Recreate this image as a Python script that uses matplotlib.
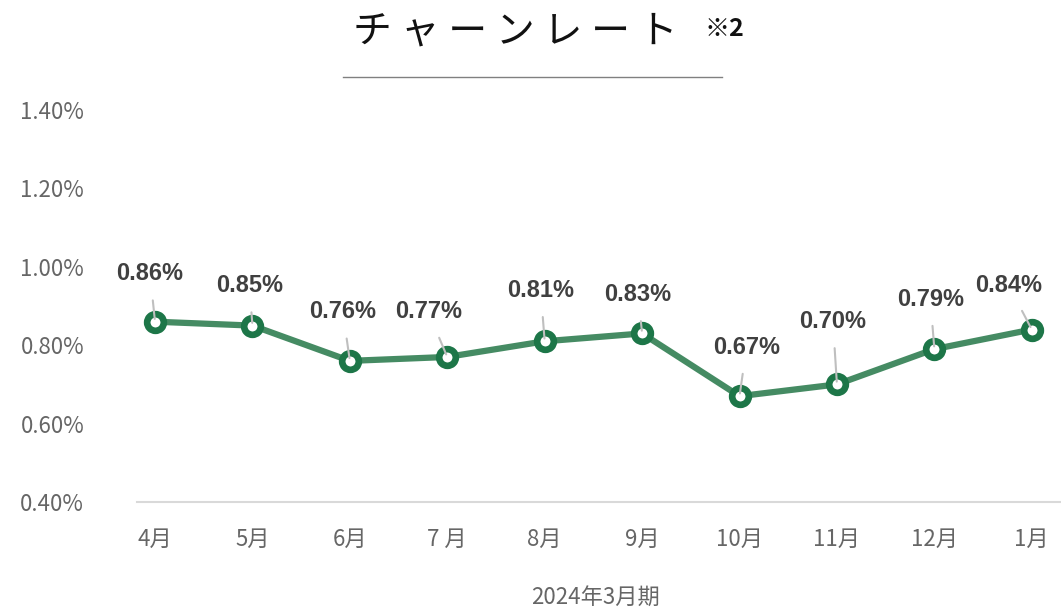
import matplotlib
matplotlib.use("Agg")
import matplotlib.pyplot as plt
from matplotlib.lines import Line2D

plt.rcParams['font.family'] = ['Noto Sans CJK JP', 'DejaVu Sans']

months = ["4月", "5月", "6月", "7 月", "8月", "9月", "10月", "11月", "12月", "1月"]
churn = [0.86, 0.85, 0.76, 0.77, 0.81, 0.83, 0.67, 0.70, 0.79, 0.84]
labels = ["0.86%", "0.85%", "0.76%", "0.77%", "0.81%", "0.83%", "0.67%", "0.70%", "0.79%", "0.84%"]
yticks = [0.40, 0.60, 0.80, 1.00, 1.20, 1.40]
ytick_labels = ["0.40%", "0.60%", "0.80%", "1.00%", "1.20%", "1.40%"]
title = "チ ャ ー ン レ ー ト"
note = "※2"
xlabel = "2024年3月期"

# label offsets in pixels (dx, dy) relative to point
offsets = [(-5, 48), (-3, 40), (-7, 49), (-19, 45), (-4, 51), (-4, 39), (7, 49), (-4, 63), (-4, 50), (-23, 44)]

W, H = 1061, 610
fig = plt.figure(figsize=(W / 100, H / 100), dpi=100)
ax = fig.add_axes([137 / W, (H - 502) / H, (W - 137) / W, (502 - 110) / H])

x = list(range(len(months)))
ax.plot(x, churn, color="#458b63", lw=4.5, solid_capstyle="round", zorder=2)
ax.plot(x, churn, ls="none", marker="o", ms=12, mew=4.8, mec="#1d7648", mfc="white", zorder=3)

for xi, yi, lab, (dx, dy) in zip(x, churn, labels, offsets):
    ax.annotate(lab, xy=(xi, yi), xytext=(dx, dy), textcoords="offset pixels",
                ha="center", va="center", fontsize=17, fontweight="bold",
                family=["Liberation Sans", "DejaVu Sans"], color="#404040", zorder=4,
                annotation_clip=False,
                arrowprops=dict(arrowstyle="-", color="#bfbfbf", lw=1.5,
                                shrinkA=9, shrinkB=2))

ax.set_xlim(-0.185, 9.30)
ax.set_ylim(0.40, 1.40)
ax.set_yticks(yticks)
ax.set_yticklabels(ytick_labels)
ax.set_xticks(x)
ax.set_xticklabels(months)
for s in ["top", "right", "left"]:
    ax.spines[s].set_visible(False)
ax.spines["bottom"].set_color("#d9d9d9")
ax.spines["bottom"].set_linewidth(1.5)
ax.tick_params(axis="both", length=0, colors="#666666", labelsize=16)
ax.tick_params(axis="y", pad=38)
ax.tick_params(axis="x", pad=19)

fig.text(595 / W, 1 - 597 / H, xlabel, ha="center", va="center", fontsize=16, color="#666666")
fig.text(515 / W, 1 - 31 / H, title, ha="center", va="center", fontsize=28, color="#111111")
fig.text(724 / W, 1 - 29 / H, note, ha="center", va="center", fontsize=18, fontweight="bold", color="#111111")
fig.add_artist(Line2D([343 / W, 722 / W], [1 - 77 / H, 1 - 77 / H], color="#808080", lw=1))

fig.savefig("out.png", dpi=100)
